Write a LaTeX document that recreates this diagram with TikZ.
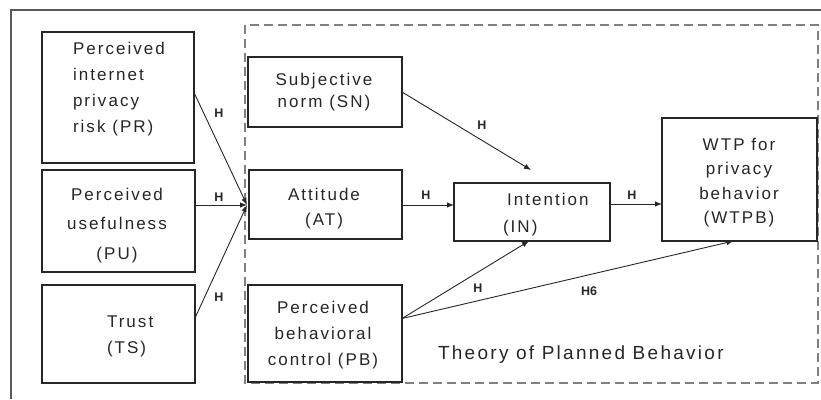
\documentclass[tikz,border=0pt]{standalone}
\usepackage{fontspec}
\setmainfont{Liberation Sans}[LetterSpace=12]
\newfontfamily\labfont{Liberation Sans}
\usetikzlibrary{arrows.meta}
\begin{document}
\begin{tikzpicture}[x=1pt,y=-1pt,
  box/.style={draw=black!85,line width=1.8pt,minimum width=#1,inner sep=0pt,outer sep=0pt},
  txt/.style={inner sep=0pt,outer sep=0pt,text=black!85},
  lab/.style={inner sep=0pt,font=\labfont\bfseries\fontsize{12.5}{14}\selectfont,text=black!85},
  arr/.style={draw=black!85,line width=0.9pt,-{Latex[length=7pt,width=5.5pt]}},
  frame/.style={draw=black!65,line width=2.6pt},
  dashbox/.style={draw=black!50,line width=1.4pt,dash pattern=on 9pt off 5pt}]
\useasboundingbox (0,0) rectangle (821,399);
\draw[frame] (11,399) -- (11,10) -- (821,10);
\draw[dashbox] (245,25) rectangle (818,383);
% boxes
\node[box=152pt,minimum height=131pt] (pr) at (118,97.5) {};
\node[box=153pt,minimum height=102pt] (pu) at (118.5,221) {};
\node[box=153pt,minimum height=98pt] (ts) at (118.5,334) {};
\node[box=154pt,minimum height=70pt] (sn) at (325,92) {};
\node[box=153pt,minimum height=69pt] (at) at (325.5,204.5) {};
\node[box=154pt,minimum height=97pt] (pb) at (325,333.5) {};
\node[box=156pt,minimum height=58pt] (in) at (532,212) {};
\node[box=155pt,minimum height=123pt] (wtpb) at (739.5,179.5) {};
% texts (base anchor = baseline of last line)
\node[txt,align=left,anchor=base west,font=\fontsize{17}{26}\selectfont] (prt) at (73,132) {Perceived\\internet\\privacy\\risk (PR)};
\node[txt,align=center,anchor=base,font=\fontsize{17}{29.5}\selectfont] (put) at (117,259) {Perceived\\usefulness\\(PU)};
\node[txt,align=left,anchor=base west,font=\fontsize{17}{26}\selectfont] (tst) at (107,353) {Trust\\(TS)};
\node[txt,align=center,anchor=base,font=\fontsize{17}{22}\selectfont] (snt) at (324,107) {Subjective\\norm (SN)};
\node[txt,align=center,anchor=base,font=\fontsize{17}{25}\selectfont] (att) at (324,225) {Attitude\\(AT)};
\node[txt,align=center,anchor=base,font=\fontsize{17}{26}\selectfont] (pbt) at (323,365) {Perceived\\behavioral\\control (PB)};
\node[txt,align=left,anchor=base west,font=\fontsize{17}{27}\selectfont] (intx) at (503,232) {\hspace*{4pt}Intention\\(IN)};
\node[txt,align=center,anchor=base,font=\fontsize{17}{24.5}\selectfont] (wtpbt) at (739,223.5) {WTP for\\privacy\\behavior\\(WTPB)};
\node[txt,anchor=base west,font=\fontsize{19}{22}\selectfont] (tpb) at (438,359) {Theory of Planned Behavior};
% connectors
\coordinate (atin) at (247,205);
\coordinate (insn) at (531,170);
\draw[arr] ([yshift=5pt]pr.east) -- (atin);
\draw[arr] ([yshift=16pt]pu.east) -- (atin);
\draw[arr] ([yshift=16pt]ts.east) -- (atin);
\draw[arr] (sn.east) -- (insn);
\draw[arr] ([yshift=-0.5pt]at.east) -- ([yshift=-0.5pt]at.east -| in.west);
\draw[arr] ([yshift=8pt]in.east) -- ([yshift=8pt]in.east -| wtpb.west);
\draw[arr] ([yshift=15pt]pb.east) -- ([xshift=-3pt]in.south);
\draw[arr] ([yshift=15pt]pb.east) -- ([xshift=-6pt]wtpb.south);
% labels
\node[lab] (h1) at (219,113) {H};
\node[lab] (h2) at (219,197) {H};
\node[lab] (h3) at (219,297) {H};
\node[lab] (h4) at (482,125) {H};
\node[lab] (h5) at (426,195) {H};
\node[lab] (h6) at (632,195) {H};
\node[lab] (h7) at (478,288) {H};
\node[lab] (h8) at (589,291) {H6};
\end{tikzpicture}
\end{document}
